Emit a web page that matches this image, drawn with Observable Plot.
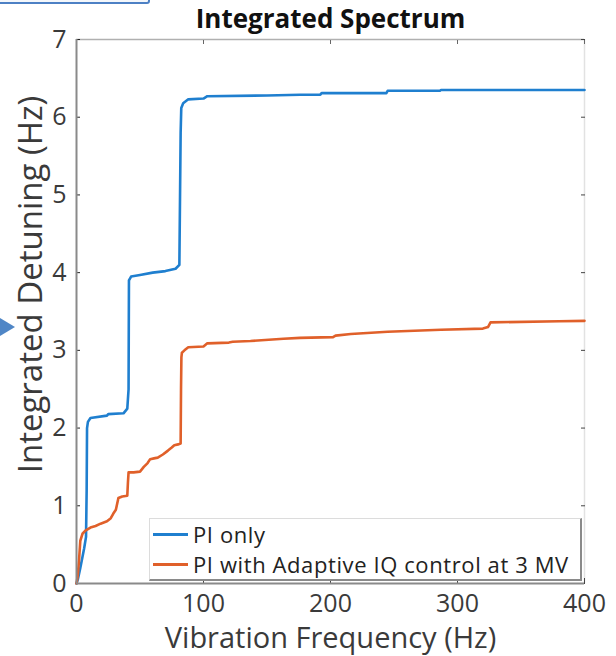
<!DOCTYPE html>
<html>
<head>
<meta charset="utf-8">
<script src="https://cdn.jsdelivr.net/npm/d3@7"></script>
<script src="https://cdn.jsdelivr.net/npm/@observablehq/plot@0.6"></script>
<style>
  html, body { margin: 0; padding: 0; background: #fff; }
  #wrap { position: relative; width: 616px; height: 656px; overflow: hidden; font-family: "Open Sans", "DejaVu Sans", sans-serif; }
  #deco-bar { position: absolute; left: -4px; top: -10px; width: 150px; height: 10px; border: 2px solid #4d80c4; border-radius: 3px; background: #f4f7fb; }
  #deco-arrow { position: absolute; left: 0; top: 318px; width: 0; height: 0; border-top: 9px solid transparent; border-bottom: 9px solid transparent; border-left: 15px solid #4f86c6; }
  #legend { position: absolute; left: 149px; top: 518px; width: 433px; height: 63px; border: 1px solid #dcdcdc; border-right: 2px solid #8a8a8a; border-bottom: 2px solid #8a8a8a; background: #fff; box-sizing: border-box; }
  .li { position: absolute; left: 3px; height: 30px; line-height: 30px; display: flex; align-items: center; font-size: 22px; letter-spacing: 0.6px; color: #222; white-space: nowrap; }
  .sw { width: 35px; height: 3px; margin-right: 5px; }
</style>
</head>
<body>
<div id="wrap">
  <div id="chart"></div>
  <div id="deco-bar"></div>
  <div id="deco-arrow"></div>
  <div id="legend"></div>
</div>
<script>
// ---- data ----
const seriesNames = ["PI only", "PI with Adaptive IQ control at 3 MV"];
const seriesColors = ["#1f7fcf", "#e0602a"];

const freqPI = [0,1,3,6,7.5, 8,8.3,9,11,24, 25,37,40,41,41.3, 43,50,60,70,78, 81,82,82.5,84,88, 100,103,150,176,192, 193,244,245,286,287, 400];
const detPI  = [0,0.05,0.2,0.45,0.6, 1.2,2.0,2.08,2.13,2.16, 2.18,2.19,2.25,2.5,3.9, 3.95,3.97,4.0,4.02,4.05, 4.1,5.8,6.12,6.18,6.23, 6.24,6.27,6.28,6.29,6.29, 6.31,6.31,6.34,6.34,6.35, 6.35];

const freqIQ = [0,1,2,3,4.7, 7,11,15,19,24, 27,29,31,33,36, 40,40.5,41,45,50, 53,56,58,61,64, 68,72,75,77,80, 82,82.3,82.6,83,85, 88,100,103,120,123, 137,163,176,202,204, 216,245,287,320,324, 326,380,400];
const detIQ  = [0,0.1,0.3,0.55,0.64, 0.68,0.72,0.74,0.77,0.8, 0.84,0.9,0.95,1.1,1.12, 1.13,1.3,1.43,1.43,1.44, 1.5,1.55,1.6,1.61,1.62, 1.66,1.71,1.75,1.78,1.79, 1.8,2.5,2.91,2.97,3.0, 3.04,3.05,3.09,3.1,3.11, 3.12,3.15,3.16,3.17,3.19, 3.21,3.24,3.265,3.28,3.3, 3.36,3.375,3.38];

const xTicks = [0, 100, 200, 300, 400];
const yTicks = [0, 1, 2, 3, 4, 5, 6, 7];
const titleText = "Integrated Spectrum";
const xLabel = "Vibration Frequency (Hz)";
const yLabel = "Integrated Detuning (Hz)";

// ---- build table ----
const rows = [
  ...freqPI.map((f, i) => ({f, d: detPI[i], s: seriesNames[0]})),
  ...freqIQ.map((f, i) => ({f, d: detIQ[i], s: seriesNames[1]}))
];

const font = "'Open Sans', 'DejaVu Sans', sans-serif";

const chart = Plot.plot({
  width: 616,
  height: 656,
  marginLeft: 76,
  marginRight: 32,
  marginTop: 39,
  marginBottom: 73,
  style: {fontFamily: font, fontSize: "25px", color: "#333", background: "#fff"},
  x: {domain: [0, 400]},
  y: {domain: [0, 7]},
  color: {domain: seriesNames, range: seriesColors},
  marks: [
    // box
    Plot.ruleY([7], {stroke: "#b0b0b0", strokeWidth: 1.5}),
    Plot.ruleX([400], {stroke: "#e2e2e2", strokeWidth: 1.5}),
    // curves
    Plot.line(rows, {x: "f", y: "d", z: "s", stroke: "s", strokeWidth: 2.6, curve: "linear"}),
    // axes
    Plot.axisX({ticks: xTicks, tickSize: -5, tickPadding: 16, tickFormat: d3.format("d"), label: null, stroke: "#444", fill: "#3a3a3a"}),
    Plot.axisX({anchor: "top", ticks: xTicks, tickSize: -4, tickFormat: () => "", label: null, stroke: "#666"}),
    Plot.axisY({ticks: yTicks, tickSize: -4, tickPadding: 14, tickFormat: d3.format("d"), label: null, stroke: "#222", fill: "#3a3a3a"}),
    Plot.axisY({anchor: "right", ticks: yTicks, tickSize: -4, tickFormat: () => "", label: null, stroke: "#444"}),
    Plot.ruleX([0], {stroke: "#8a8a8a", strokeWidth: 2}),
    Plot.ruleY([0], {stroke: "#8a8a8a", strokeWidth: 2}),
    // labels
    Plot.text([titleText], {frameAnchor: "top", lineAnchor: "middle", dy: -20, fontSize: 26, fontWeight: "bold", fill: "#111"}),
    Plot.text([xLabel], {frameAnchor: "bottom", lineAnchor: "middle", dy: 55, fontSize: 29, fill: "#3a3a3a"}),
    Plot.text([yLabel], {frameAnchor: "left", textAnchor: "middle", lineAnchor: "middle", rotate: -90, dx: -45, dy: -27, fontSize: 33, fill: "#3a3a3a"})
  ]
});
document.getElementById("chart").appendChild(chart);

// legend
const leg = document.getElementById("legend");
seriesNames.forEach((name, i) => {
  const item = document.createElement("div");
  item.className = "li";
  item.style.top = (0 + i * 30) + "px";
  const sw = document.createElement("div");
  sw.className = "sw";
  sw.style.background = seriesColors[i];
  item.appendChild(sw);
  const t = document.createElement("span");
  t.textContent = name;
  item.appendChild(t);
  leg.appendChild(item);
});
</script>
</body>
</html>
